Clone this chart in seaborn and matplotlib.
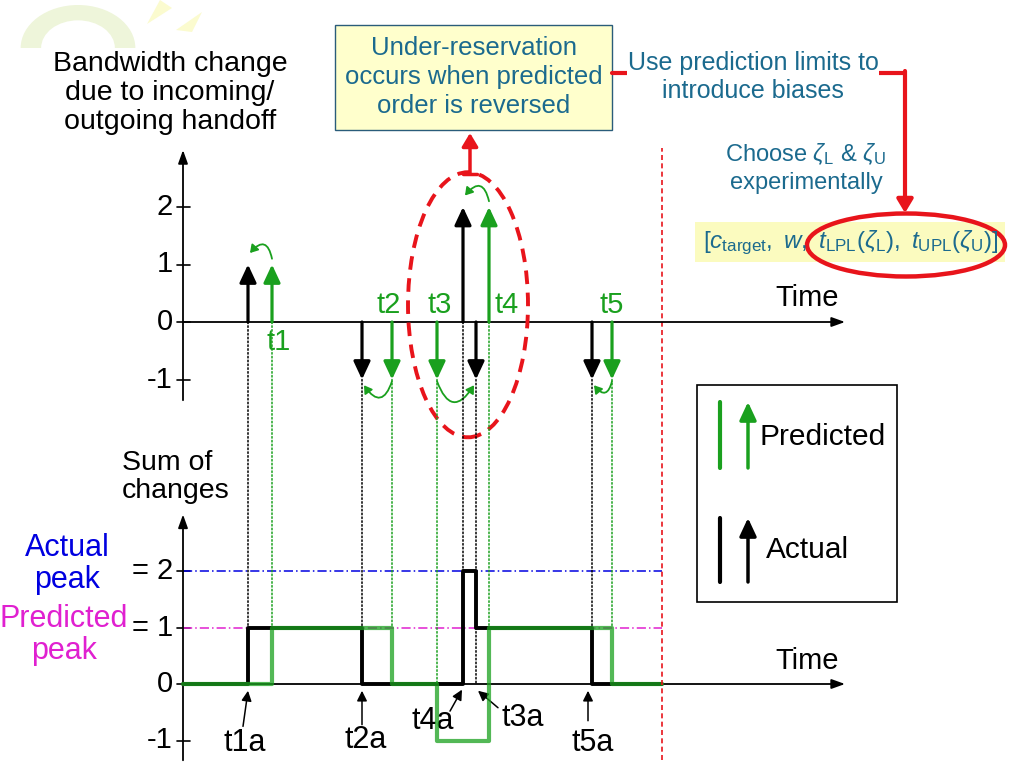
import numpy as np
import pandas as pd
import seaborn as sns
import matplotlib.pyplot as plt
from matplotlib.patches import Ellipse, Rectangle, ConnectionPatch, Wedge, Polygon
from matplotlib.lines import Line2D

# event times (time axis units) and bandwidth changes
actual_times = [6.5, 17.9, 28.0, 29.3, 40.9]
actual_changes = [1, -1, 2, -1, -1]
actual_labels = ["t1a", "t2a", "t4a", "t3a", "t5a"]
actual_drop_to = [1, 1, 2, 0, 1]          # where the dotted guide ends in the sum panel

pred_times = [8.9, 20.9, 25.4, 30.6, 42.9]
pred_changes = [1, -1, -1, 2, -1]
pred_labels = ["t1", "t2", "t3", "t4", "t5"]
pred_drop_to = [1, 1, 0, 1, 1]

horizon = 47.9
axis_end = 66.2

top_ticks = [2, 1, 0, -1]
bot_ticks = [2, 1, 0, -1]
bot_tick_labels = ["= 2", "= 1", "0", "-1"]

GREEN = "#1aa01e"
TEAL = "#1b6a8e"
RED = "#e8141b"
BLUE = "#0000e0"
MAGENTA = "#e020d0"

sns.set_theme(style="white")
plt.rcParams["font.family"] = ["Liberation Sans", "DejaVu Sans"]
plt.rcParams["text.color"] = "black"
plt.rcParams["mathtext.fontset"] = "custom"
plt.rcParams["mathtext.rm"] = "Liberation Sans"
plt.rcParams["mathtext.it"] = "Liberation Sans:italic"

fig = plt.figure(figsize=(10.24, 7.68), dpi=100)


def fp(px, py):
    return (px / 1024, 1 - py / 768)


# two overlapping axes spanning the whole figure, each with its own y scale
ax_bot = fig.add_axes([0, 0, 1, 1])
ax_top = fig.add_axes([0, 0, 1, 1], facecolor="none")
ax_top.set_xlim(-18.3, 84.1)
ax_top.set_ylim(-(768 - 322) / 57.5, 322 / 57.5)
ax_bot.set_xlim(-18.3, 84.1)
ax_bot.set_ylim(-(768 - 684) / 56.5, 684 / 56.5)
for a in (ax_top, ax_bot):
    a.set_axis_off()

# faint logo in the corner
fig.add_artist(Wedge(fp(78, 48), 0.056, 0, 180, width=0.02, transform=fig.transFigure,
                     facecolor="#eef5da", edgecolor="none", zorder=-1))
fig.add_artist(Polygon([fp(147, 24), fp(160, 0), fp(172, 8)], closed=True, transform=fig.transFigure,
                       facecolor="#fbfbcf", edgecolor="none", zorder=-1))
fig.add_artist(Polygon([fp(176, 30), fp(202, 12), fp(192, 32)], closed=True, transform=fig.transFigure,
                       facecolor="#fbfbcf", edgecolor="none", zorder=-1))

axis_arrow = dict(arrowstyle="-|>,head_length=0.5,head_width=0.18", color="black", lw=1.3,
                  shrinkA=0, shrinkB=0, mutation_scale=16)

# ---------------- top panel: bandwidth changes ----------------
ax_top.annotate("", xy=(0, 2.99), xytext=(0, -1.36), arrowprops=axis_arrow)
ax_top.annotate("", xy=(axis_end, 0), xytext=(0, 0), arrowprops=axis_arrow)
for v in top_ticks:
    ax_top.plot([-0.6, 0.7], [v, v], color="black", lw=1.2)
    ax_top.text(-1.0, v, str(v), ha="right", va="center", fontsize=21)
ax_top.text(59.2, 0.42, "Time", fontsize=21, ha="left", va="center")

ev_arrow = "-|>,head_length=0.6,head_width=0.28"
for t, c in zip(actual_times, actual_changes):
    ax_top.annotate("", xy=(t, c), xytext=(t, 0),
                    arrowprops=dict(arrowstyle=ev_arrow, color="black", lw=2.3,
                                    shrinkA=0, shrinkB=0, mutation_scale=18))
for t, c in zip(pred_times, pred_changes):
    ax_top.annotate("", xy=(t, c), xytext=(t, 0),
                    arrowprops=dict(arrowstyle=ev_arrow, color=GREEN, lw=2.3,
                                    shrinkA=0, shrinkB=0, mutation_scale=18))

# green swap arcs from predicted tip to actual tip
arc_pairs = [(0, 0), (1, 1), (2, 3), (3, 2), (4, 4)]
for ip, ia in arc_pairs:
    cp, ca = pred_changes[ip], actual_changes[ia]
    t0, t1 = pred_times[ip], actual_times[ia]
    up = cp > 0
    off0 = 0.1 if up else -0.03
    off1 = 0.2 if up else -0.1
    if up:
        rad = 1.0 if t1 < t0 else -1.0
    else:
        rad = 1.0 if t1 > t0 else -1.0
    ax_top.annotate("", xy=(t1 + (0.2 if t1 < t0 else -0.2), ca + off1),
                    xytext=(t0, cp + off0),
                    arrowprops=dict(arrowstyle="-|>,head_length=0.45,head_width=0.28", color=GREEN,
                                    lw=1.3, shrinkA=0, shrinkB=0, mutation_scale=10,
                                    connectionstyle=f"arc3,rad={rad}"))

pred_label_pos = [(9.6, -0.35), (20.6, 0.3), (25.7, 0.3), (32.4, 0.3), (42.9, 0.3)]
for lab, (x, y) in zip(pred_labels, pred_label_pos):
    ax_top.text(x, y, lab, color=GREEN, fontsize=21, ha="center", va="center")

# dotted guides into the sum panel
for t, c, d in zip(actual_times, actual_changes, actual_drop_to):
    fig.add_artist(ConnectionPatch(xyA=(t, min(c, 0)), coordsA=ax_top.transData,
                                   xyB=(t, d), coordsB=ax_bot.transData,
                                   color="black", ls=(0, (1, 1.5)), lw=1.1))
for t, c, d in zip(pred_times, pred_changes, pred_drop_to):
    fig.add_artist(ConnectionPatch(xyA=(t, min(c, 0)), coordsA=ax_top.transData,
                                   xyB=(t, d), coordsB=ax_bot.transData,
                                   color=GREEN, ls=(0, (1, 1.5)), lw=1.1))

# horizon line
ax_top.vlines(horizon, -7.62, 3.03, colors=RED, linestyles=(0, (3, 2)), lw=1.2)

# dashed ellipse around the reversed pair
ax_top.add_patch(Ellipse((28.5, 0.30), 12.0, 4.61, fill=False, edgecolor=RED, lw=2.8,
                         ls=(0, (3.5, 2.2)), zorder=5))
ax_top.annotate("", xy=fp(470, 133), xytext=fp(470, 174), xycoords="figure fraction",
                textcoords="figure fraction",
                arrowprops=dict(arrowstyle="-|>,head_length=0.5,head_width=0.3", color=RED, lw=2.5,
                                shrinkA=0, shrinkB=0, mutation_scale=16))
fig.add_artist(Line2D([463 / 1024, 477 / 1024], [1 - 174 / 768] * 2, color=RED, lw=2.5,
                      transform=fig.transFigure))

# ---------------- bottom panel: running sum ----------------
ax_bot.annotate("", xy=(0, 3.0), xytext=(0, -1.35), arrowprops=axis_arrow)
ax_bot.annotate("", xy=(axis_end, 0), xytext=(0, 0), arrowprops=axis_arrow)
for v, lab in zip(bot_ticks, bot_tick_labels):
    ax_bot.plot([-0.6, 0.7], [v, v], color="black", lw=1.2)
    ax_bot.text(-1.0, v, lab, ha="right", va="center", fontsize=21)
ax_bot.text(59.2, 0.4, "Time", fontsize=21, ha="left", va="center")

actual_sum = np.concatenate([[0], np.cumsum(actual_changes), [0]])
pred_sum = np.concatenate([[0], np.cumsum(pred_changes), [0]])
df_act = pd.DataFrame({"time": [0] + actual_times + [horizon], "sum": actual_sum})
df_pred = pd.DataFrame({"time": [0] + pred_times + [horizon], "sum": pred_sum})
df_act.loc[df_act.index[-1], "sum"] = df_act["sum"].iloc[-2]
df_pred.loc[df_pred.index[-1], "sum"] = df_pred["sum"].iloc[-2]

ax_bot.hlines(actual_sum.max(), 0, horizon, colors=BLUE, linestyles=(0, (6, 2, 1, 2)), lw=1.1)
ax_bot.hlines(pred_sum.max(), 0, horizon, colors=MAGENTA, linestyles=(0, (6, 2, 1, 2)), lw=1.1)

sns.lineplot(data=df_act, x="time", y="sum", ax=ax_bot, color="black", lw=2.8,
             drawstyle="steps-post", zorder=3)
sns.lineplot(data=df_pred, x="time", y="sum", ax=ax_bot, color=GREEN, lw=3.0,
             drawstyle="steps-post", zorder=4, alpha=0.75)
if ax_bot.get_legend() is not None:
    ax_bot.get_legend().remove()

# event labels with small pointer arrows
act_label_text = [(6.2, -1.05), (18.3, -1.0), (25.0, -0.65), (34.0, -0.6), (41.0, -1.05)]
act_label_tail = [(6.0, -0.75), (17.9, -0.72), (26.7, -0.48), (31.5, -0.42), (40.5, -0.65)]
act_label_head = [(6.5, -0.12), (17.9, -0.12), (27.9, -0.1), (29.5, -0.12), (40.5, -0.12)]
for lab, txt, tail, head in zip(actual_labels, act_label_text, act_label_tail, act_label_head):
    ax_bot.text(txt[0], txt[1], lab, fontsize=22, ha="center", va="center")
    ax_bot.annotate("", xy=head, xytext=tail,
                    arrowprops=dict(arrowstyle="-|>,head_length=0.5,head_width=0.25", color="black",
                                    lw=1.1, shrinkA=0, shrinkB=0, mutation_scale=12))

# ---------------- text and callouts ----------------
fig.text(*fp(170, 93), "Bandwidth change\ndue to incoming/\noutgoing handoff", fontsize=20.5,
         ha="center", va="center", linespacing=1.17)
fig.text(*fp(122, 477), "Sum of\nchanges", fontsize=20.5, ha="left", va="center", linespacing=1.1)
fig.text(*fp(67, 564), "Actual\npeak", fontsize=22, color=BLUE, ha="center", va="center",
         linespacing=1.05)
fig.text(*fp(64, 635), "Predicted\npeak", fontsize=22, color=MAGENTA, ha="center", va="center",
         linespacing=1.1)

fig.add_artist(Rectangle(fp(335, 130), 277 / 1024, 105 / 768, transform=fig.transFigure,
                         facecolor="#ffffcc", edgecolor="#2a5c7a", lw=1.0, zorder=-1))
fig.text(*fp(474, 77), "Under-reservation\noccurs when predicted\norder is reversed", fontsize=18.5,
         color=TEAL, ha="center", va="center", linespacing=1.25)

# red connector from the box to the parameter vector
fig.add_artist(Line2D([612 / 1024, 905 / 1024], [1 - 73 / 768] * 2, color=RED, lw=3,
                      transform=fig.transFigure, zorder=-0.5))
ax_top.annotate("", xy=fp(905, 213), xytext=fp(905, 71), xycoords="figure fraction",
                textcoords="figure fraction",
                arrowprops=dict(arrowstyle="-|>,head_length=0.5,head_width=0.3", color=RED, lw=3,
                                shrinkA=0, shrinkB=0, mutation_scale=16))
fig.text(*fp(753, 77), "Use prediction limits to\nintroduce biases", fontsize=18, color=TEAL,
         ha="center", va="center", linespacing=1.25,
         bbox=dict(facecolor="white", edgecolor="none", pad=0.5))
fig.text(*fp(806, 168), "Choose $\\zeta_{\\rm L}$ & $\\zeta_{\\rm U}$\nexperimentally", fontsize=17,
         color=TEAL, ha="center", va="center", linespacing=1.3)

fig.add_artist(Rectangle(fp(695, 262), 310 / 1024, 40 / 768, transform=fig.transFigure,
                         facecolor="#fbfbbf", edgecolor="none", zorder=-1))
fig.text(*fp(851, 243),
         r"$[c_{\rm target},\ w,\ t_{\rm LPL}(\zeta_{\rm L}),\ t_{\rm UPL}(\zeta_{\rm U})]$",
         fontsize=17.5, color=TEAL, ha="center", va="center")
fig.add_artist(Ellipse(fp(906, 245), 198 / 1024, 63 / 768, transform=fig.transFigure,
                       fill=False, edgecolor=RED, lw=3.2))

# legend box
fig.add_artist(Rectangle(fp(697, 602), 200 / 1024, 217 / 768, transform=fig.transFigure,
                         facecolor="none", edgecolor="black", lw=1.2))
for c, y0, y1, lab, tx, ty in [(GREEN, 468, 402, "Predicted", 759, 437),
                               ("black", 582, 518, "Actual", 766, 550)]:
    fig.add_artist(Line2D([720 / 1024] * 2, [1 - y0 / 768, 1 - y1 / 768], color=c, lw=3,
                          transform=fig.transFigure))
    ax_top.annotate("", xy=fp(748, y1), xytext=fp(748, y0), xycoords="figure fraction",
                    textcoords="figure fraction",
                    arrowprops=dict(arrowstyle=ev_arrow, color=c, lw=2.5, shrinkA=0, shrinkB=0,
                                    mutation_scale=18))
    fig.text(*fp(tx, ty), lab, fontsize=21.5, ha="left", va="center")

fig.savefig("out.png", dpi=100)
